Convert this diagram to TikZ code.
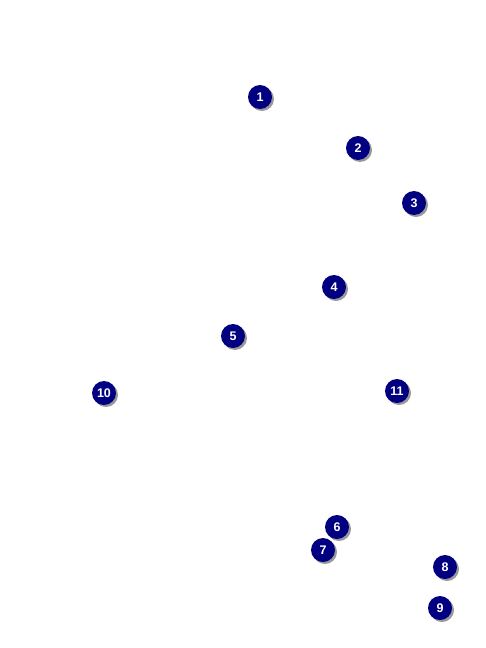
\documentclass[tikz,border=0pt]{standalone}
\usepackage{fontspec}
\setmainfont{Liberation Sans}
\begin{document}
\begin{tikzpicture}[x=1pt,y=-1pt,
  badge/.style={circle,fill={rgb,255:red,0;green,0;blue,128},text=white,minimum size=24pt,inner sep=0pt,font=\bfseries\fontsize{12.5}{14}\selectfont,
    preaction={fill=black!40,transform canvas={xshift=2pt,yshift=-2pt}}}]
\useasboundingbox[fill=white] (0,0) rectangle (486,648);
\node[badge] (n1) at (260,97) {1};
\node[badge] (n2) at (358,148) {2};
\node[badge] (n3) at (414,203) {3};
\node[badge] (n4) at (334,287) {4};
\node[badge] (n5) at (233,336) {5};
\node[badge] (n10) at (104,393) {10};
\node[badge] (n11) at (397,391) {11};
\node[badge] (n6) at (337,527) {6};
\node[badge] (n7) at (323,550) {7};
\node[badge] (n8) at (445,567) {8};
\node[badge] (n9) at (440,608) {9};
\end{tikzpicture}
\end{document}
